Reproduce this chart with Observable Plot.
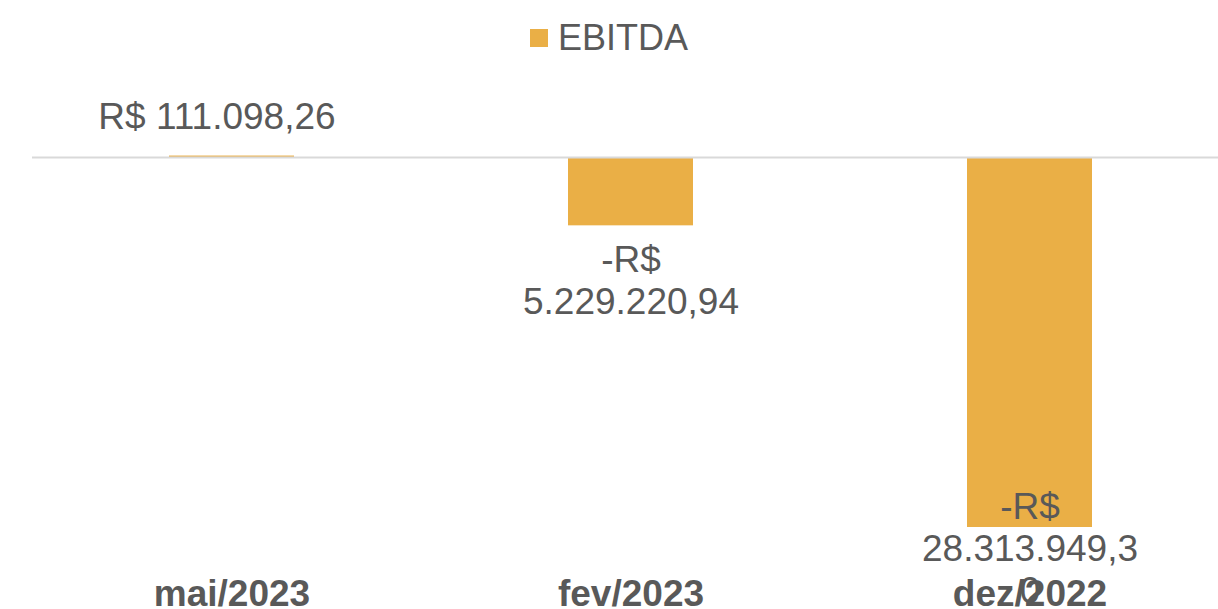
<!DOCTYPE html>
<html>
<head>
<meta charset="utf-8">
<script src="https://cdn.jsdelivr.net/npm/d3@7"></script>
<script src="https://cdn.jsdelivr.net/npm/@observablehq/plot@0.6"></script>
<style>
  html, body { margin: 0; padding: 0; background: #fff; }
  body { width: 1218px; height: 609px; overflow: hidden; font-family: "Liberation Sans", Arial, sans-serif; }
  #legend { height: 75px; display: flex; justify-content: center; align-items: flex-start; padding-top: 0; box-sizing: border-box; }
  #legend .item { display: flex; align-items: center; margin-top: 17px; color: #595959; font-size: 36px; }
  #legend .sw { width: 18px; height: 18px; background: #EAAF46; margin-right: 10px; }
  #chart svg { display: block; }
</style>
</head>
<body>
<div id="legend"><div class="item"><div class="sw"></div><span>EBITDA</span></div></div>
<div id="chart"></div>
<script>
const categories = ["mai/2023", "fev/2023", "dez/2022"];
const values = [111098.26, -5229220.94, -28313949.3];
const labels = ["R$ 111.098,26", "-R$\n5.229.220,94", "-R$\n28.313.949,3\n0"];
const seriesName = "EBITDA";

const data = categories.map((c, i) => ({cat: c, value: values[i], label: labels[i]}));
const color = "#EAAF46";
const textColor = "#595959";
const font = "Liberation Sans, Arial, sans-serif";

const plot = Plot.plot({
  width: 1218,
  height: 534,
  marginLeft: 32,
  marginRight: 0,
  marginTop: 0,
  marginBottom: 50,
  style: {fontFamily: font, background: "#fff", overflow: "visible"},
  x: {domain: categories, range: [-106.5, 1366.5], padding: 0.6871, label: null},
  y: {domain: [0, -28313949.3], range: [82, 452], axis: null},
  marks: [
    Plot.barY(data, {x: "cat", y: "value", fill: color}),
    Plot.ruleY([0], {stroke: "#D9D9D9", strokeWidth: 2}),
    Plot.text(data.filter(d => d.value >= 0), {x: "cat", y: "value", text: "label", fill: textColor, fontSize: 37, lineAnchor: "bottom", dy: -27, dx: -15}),
    Plot.text(data.filter(d => d.value < 0 && d.value > -20000000), {x: "cat", y: "value", text: "label", fill: textColor, fontSize: 37, lineAnchor: "top", lineHeight: 1.135, dy: 16}),
    Plot.text(data.filter(d => d.value <= -20000000), {x: "cat", y: "value", text: "label", fill: textColor, fontSize: 37, lineAnchor: "top", lineHeight: 1.135, dy: -38}),
    Plot.axisX({tickSize: 0, tickPadding: 20, fontSize: 37, fontWeight: "bold", color: "#595959", label: null})
  ]
});
document.getElementById("chart").appendChild(plot);
</script>
</body>
</html>
